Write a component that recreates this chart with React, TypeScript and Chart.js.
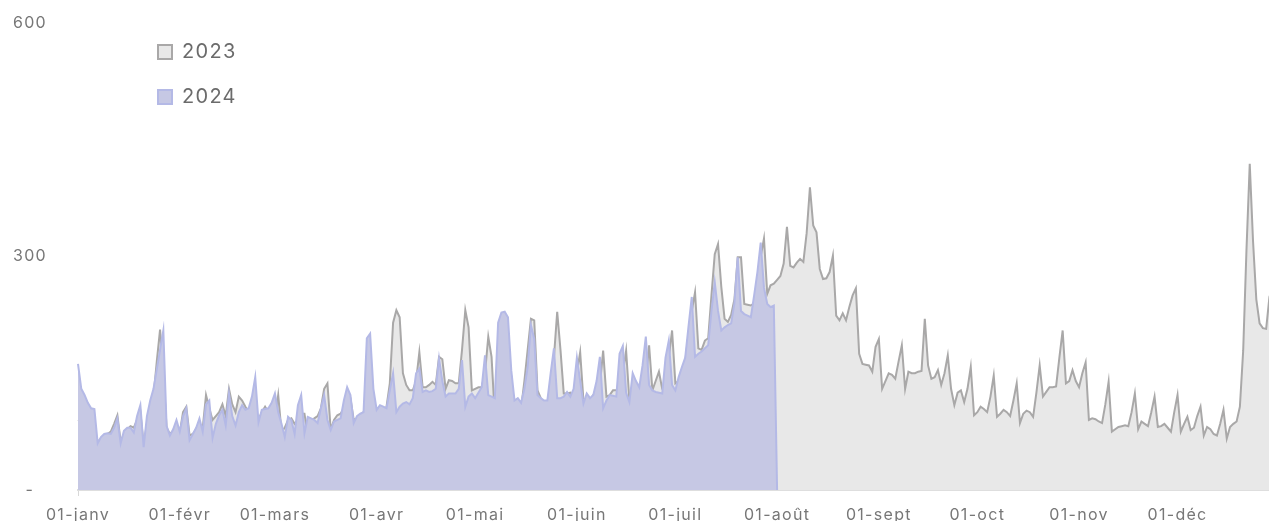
import { useEffect, useRef } from 'react';
import { Chart, registerables } from 'chart.js';

Chart.register(...registerables);

// Month names (French) and day counts of the leap-year calendar used by the axis
const monthNames = ['janv', 'févr', 'mars', 'avr', 'mai', 'juin', 'juil', 'août', 'sept', 'oct', 'nov', 'déc'];
const monthDays = [31, 29, 31, 30, 31, 30, 31, 31, 30, 31, 30, 31];

const seriesNames = ['2023', '2024'];

// Daily values, 2023
const values2023 = [
  // janv
  90, 88, 86, 80, 85, 70, 62, 66, 70, 72, 75, 85, 96, 62, 72, 78, 82, 80, 90, 100, 58, 85, 100, 120, 165, 206, 150, 80, 72, 76, 78,
  // févr
  73, 100, 107, 70, 72, 78, 85, 80, 122, 105, 90, 95, 100, 110, 95, 130, 110, 100, 120, 115, 107, 100, 100, 95, 90, 100, 107, 100, 92,
  // mars
  92, 122, 75, 80, 90, 92, 85, 90, 98, 98, 70, 88, 92, 95, 105, 130, 137, 77, 90, 96, 98, 105, 118, 118, 90, 92, 95, 100, 115, 130, 88,
  // avr
  95, 103, 100, 107, 137, 215, 231, 222, 150, 135, 128, 128, 140, 177, 132, 132, 135, 139, 135, 171, 168, 130, 141, 140, 137, 137, 180, 231, 209, 128,
  // mai
  130, 132, 132, 150, 197, 171, 94, 100, 105, 109, 105, 147, 94, 100, 105, 140, 180, 220, 218, 128, 118, 110, 112, 115, 170, 229, 180, 124, 124, 125, 115,
  // juin
  150, 177, 115, 118, 115, 122, 125, 135, 179, 120, 122, 128, 128, 130, 150, 179, 115, 120, 125, 130, 135, 140, 186, 128, 140, 152, 130, 124, 170, 205,
  // juil
  137, 140, 150, 165, 200, 230, 254, 182, 180, 192, 195, 250, 303, 316, 261, 220, 216, 225, 245, 299, 299, 239, 238, 237, 240, 260, 300, 323, 252, 263, 265,
  // août
  270, 275, 291, 338, 288, 286, 292, 297, 293, 330, 389, 340, 331, 284, 271, 272, 280, 301, 224, 218, 227, 218, 235, 250, 259, 175, 162, 161, 160, 152, 184,
  // sept
  194, 130, 140, 150, 148, 143, 165, 186, 130, 152, 150, 150, 152, 153, 220, 160, 143, 145, 154, 135, 150, 173, 130, 109, 125, 128, 113, 130, 158, 96,
  // oct
  100, 107, 104, 100, 120, 147, 94, 98, 103, 100, 95, 115, 137, 86, 98, 102, 100, 94, 125, 160, 120, 126, 132, 132, 133, 170, 205, 137, 140, 154, 140,
  // nov
  132, 150, 164, 90, 92, 91, 88, 86, 110, 139, 75, 78, 81, 82, 83, 82, 100, 124, 78, 88, 85, 82, 100, 120, 81, 82, 85, 80, 75, 100,
  // déc
  122, 75, 85, 94, 77, 80, 95, 107, 70, 81, 78, 72, 70, 85, 103, 66, 81, 85, 88, 107, 179, 308, 419, 320, 245, 214, 208, 207, 248, 260, 240,
];

// Daily values, 2024 (up to 31 juil., then 0 on 01-août)
const values2024 = [
  // janv
  162, 130, 122, 112, 105, 104, 60, 68, 72, 73, 72, 80, 92, 60, 76, 80, 80, 74, 95, 109, 55, 95, 115, 130, 155, 180, 205, 82, 70, 78, 90,
  // févr
  75, 95, 105, 64, 72, 80, 92, 75, 110, 115, 67, 85, 96, 103, 83, 124, 95, 83, 100, 109, 103, 105, 120, 145, 87, 103, 104, 105, 112,
  // mars
  124, 100, 85, 68, 94, 90, 72, 109, 122, 73, 94, 92, 90, 86, 105, 122, 90, 77, 88, 90, 92, 115, 132, 122, 86, 95, 98, 100, 195, 201, 130,
  // avr
  103, 109, 107, 105, 128, 150, 100, 107, 111, 113, 110, 118, 150, 156, 126, 128, 126, 127, 130, 169, 140, 120, 124, 124, 124, 130, 167, 107, 120, 124,
  // mai
  118, 125, 132, 173, 122, 120, 118, 215, 228, 229, 222, 154, 115, 118, 112, 130, 158, 212, 194, 122, 118, 115, 115, 150, 182, 118, 118, 120, 126, 120, 130,
  // juin
  170, 140, 111, 124, 118, 122, 140, 171, 105, 115, 122, 121, 120, 175, 185, 125, 113, 150, 140, 132, 160, 197, 135, 128, 126, 125, 124, 170, 192, 135,
  // juil
  128, 145, 158, 170, 210, 248, 171, 175, 178, 182, 186, 230, 267, 230, 205, 209, 212, 214, 240, 299, 230, 226, 224, 222, 250, 280, 318, 260, 239, 235, 237,
  // 01-août
  0,
];

const yTickValues = [0, 300, 600];
const zeroTickLabel = '-';

// Category labels "01-janv", "02-janv", ...
const dayLabels: string[] = [];
monthNames.forEach((m, mi) => {
  for (let d = 1; d <= monthDays[mi]; d++) {
    dayLabels.push(String(d).padStart(2, '0') + '-' + m);
  }
});
const isMonthStart = (i: number) => !!dayLabels[i] && dayLabels[i].startsWith('01-');

const FONT = 'Inter, "Open Sans", sans-serif';

export default function App() {
  const ref = useRef<HTMLCanvasElement>(null);

  useEffect(() => {
    document.documentElement.style.overflow = 'hidden';
    if (!ref.current) return;

    const legendPlace = {
      id: 'legendPlace',
      afterLayout(chart: any) {
        const l = chart.legend;
        if (l) {
          const w = l.right - l.left;
          const h = l.bottom - l.top;
          l.left = 125;
          l.right = 125 + w;
          l.top = 9;
          l.bottom = 9 + h;
        }
      },
      beforeDraw(chart: any) {
        try {
          (chart.ctx as any).letterSpacing = '1.3px';
        } catch (e) {
          /* ignore */
        }
      },
    };

    const chart = new Chart(ref.current, {
      type: 'line',
      data: {
        labels: dayLabels,
        datasets: [
          {
            label: seriesNames[0],
            data: values2023,
            borderColor: '#a9a8a8',
            backgroundColor: '#e8e8e8',
            borderWidth: 2,
            fill: 'origin',
            pointRadius: 0,
            pointHoverRadius: 0,
            tension: 0,
            order: 1,
          },
          {
            label: seriesNames[1],
            data: values2024,
            borderColor: '#b4b9e6',
            backgroundColor: '#c6c8e4',
            borderWidth: 2,
            fill: 'origin',
            pointRadius: 0,
            pointHoverRadius: 0,
            tension: 0,
            order: 0,
          },
        ],
      },
      options: {
        animation: false,
        responsive: false,
        layout: { padding: { top: 15, right: 22, left: 0, bottom: 0 } },
        plugins: {
          legend: {
            position: 'chartArea' as any,
            fullSize: false,
            align: 'start',
            labels: {
              boxWidth: 14,
              boxHeight: 14,
              padding: 25,
              color: '#6b6b6b',
              font: { family: FONT, size: 20 },
              sort: (a: any, b: any) => a.datasetIndex - b.datasetIndex,
            },
          },
          tooltip: { enabled: false },
        },
        scales: {
          x: {
            grid: {
              display: true,
              drawOnChartArea: false,
              drawTicks: true,
              tickLength: 6,
              color: (ctx: any) => (isMonthStart(ctx.index) ? '#d8d8d8' : 'rgba(0,0,0,0)'),
              lineWidth: 1,
            },
            border: { display: true, color: '#dedede', width: 2 },
            ticks: {
              autoSkip: false,
              maxRotation: 0,
              minRotation: 0,
              padding: 10,
              color: '#777',
              font: { family: FONT, size: 16 },
              callback: (_v: any, i: number) => (isMonthStart(i) ? dayLabels[i] : null),
            },
            afterFit: (s: any) => {
              s.height = 40;
            },
          },
          y: {
            min: yTickValues[0],
            max: yTickValues[yTickValues.length - 1],
            grid: { display: false },
            border: { display: false },
            ticks: {
              stepSize: yTickValues[1] - yTickValues[0],
              crossAlign: 'center',
              padding: 25,
              color: '#777',
              font: { family: FONT, size: 16 },
              callback: (v: any) => (v === 0 ? zeroTickLabel : String(v)),
            },
            afterFit: (s: any) => {
              s.width = 70;
              s.paddingTop = 10;
              s.paddingBottom = 10;
            },
          },
        },
      },
      plugins: [legendPlace],
    });
    return () => chart.destroy();
  }, []);

  return (
    <div style={{ height: 505 }}>
      <canvas
        ref={ref}
        width={1290}
        height={522}
        style={{ position: 'absolute', left: 8, top: 8, display: 'block', width: 1290, height: 522 }}
      />
    </div>
  );
}
